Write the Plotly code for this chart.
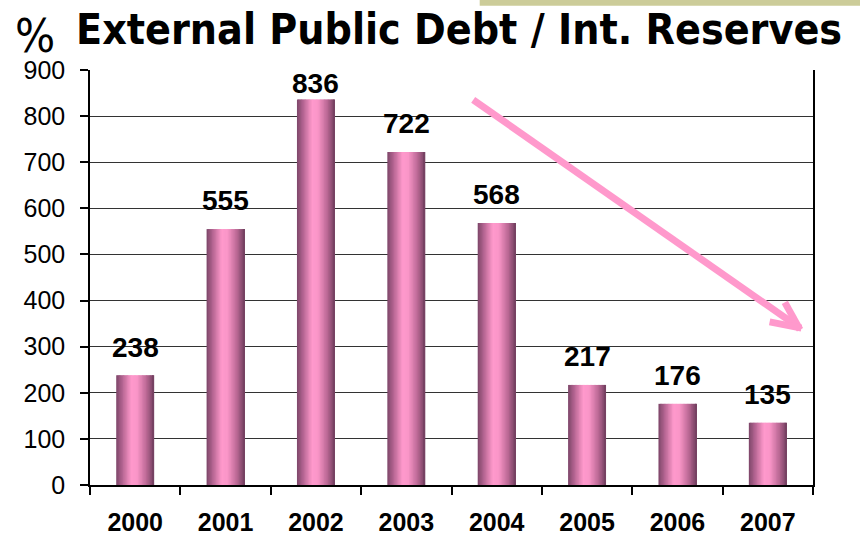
import plotly.graph_objects as go

# Data
years = ["2000", "2001", "2002", "2003", "2004", "2005", "2006", "2007"]
ratio = [238, 555, 836, 722, 568, 217, 176, 135]
y_ticks = [0, 100, 200, 300, 400, 500, 600, 700, 800, 900]

# Horizontal shading across each bar (cylinder look): position -> RGB
shade_stops = [
    (0.00, (124, 70, 104)),
    (0.15, (176, 98, 142)),
    (0.40, (255, 153, 204)),
    (0.55, (250, 150, 200)),
    (0.80, (186, 104, 148)),
    (1.00, (112, 62, 94)),
]


def shade(t):
    for (t0, c0), (t1, c1) in zip(shade_stops, shade_stops[1:]):
        if t0 <= t <= t1:
            f = (t - t0) / (t1 - t0) if t1 > t0 else 0
            return "rgb(%d,%d,%d)" % tuple(round(a + (b - a) * f) for a, b in zip(c0, c1))
    return "rgb(%d,%d,%d)" % shade_stops[-1][1]


BAR_W = 0.42
N_SLICES = 28
step = BAR_W / N_SLICES

fig = go.Figure()
for k in range(N_SLICES):
    off = -BAR_W / 2 + k * step
    w = min(step * 1.7, BAR_W / 2 - off)
    fig.add_trace(go.Bar(
        x=years, y=ratio,
        offset=off, width=w,
        marker=dict(color=shade((k + 0.5) / N_SLICES), line=dict(width=0)),
        hoverinfo="skip", showlegend=False,
    ))

# Value labels above the bars, kept inside the plot area
label_font = dict(family="Liberation Sans, Arial", size=28, color="black")
for i, v in enumerate(ratio):
    fig.add_annotation(
        x=i, y=min(v + 61, 870), text="<b>%d</b>" % v,
        showarrow=False, yanchor="middle", xanchor="center",
        font=label_font,
    )

# Downward trend arrow
pink = "#FF99CC"
tip = (0.982, 0.378)
fig.add_shape(type="line", xref="paper", yref="paper",
              x0=0.530, y0=0.928, x1=tip[0], y1=tip[1],
              line=dict(color=pink, width=7))
fig.add_shape(type="line", xref="paper", yref="paper",
              x0=0.961, y0=0.440, x1=tip[0], y1=tip[1] - 0.004,
              line=dict(color=pink, width=7))
fig.add_shape(type="line", xref="paper", yref="paper",
              x0=0.940, y0=0.393, x1=tip[0] + 0.002, y1=tip[1],
              line=dict(color=pink, width=7))

# Khaki strip along the top edge
fig.add_shape(type="rect", xref="paper", yref="paper",
              x0=0.539, x1=1.07, y0=1.155, y1=1.175,
              fillcolor="#CCCC99", line=dict(width=0), layer="below")

# Title
fig.add_annotation(
    xref="paper", yref="paper", x=-0.107, y=1.084,
    text="%", showarrow=False, xanchor="left", yanchor="middle",
    height=40, valign="middle",
    font=dict(family="DejaVu Sans Condensed", size=47, color="black"),
)
fig.add_annotation(
    xref="paper", yref="paper", x=-0.022, y=1.097,
    text="<b>External Public Debt / Int. Reserves</b>",
    showarrow=False, xanchor="left", yanchor="middle",
    font=dict(family="DejaVu Sans Condensed", size=42.5, color="black"),
)

fig.update_layout(
    barmode="overlay",
    width=860, height=536,
    margin=dict(l=90, r=47, t=70, b=51),
    paper_bgcolor="white", plot_bgcolor="white",
    xaxis=dict(
        type="category",
        range=[-0.5, len(years) - 0.5],
        automargin=False,
        tickson="boundaries",
        ticks="outside", ticklen=8, tickcolor="black", tickwidth=1.5,
        showline=True, linecolor="black", linewidth=1.5,
        showgrid=False,
        ticklabelstandoff=14,
        tickfont=dict(family="Liberation Sans, Arial", size=25, color="black", weight="bold"),
    ),
    yaxis=dict(
        range=[0, 900],
        tickvals=y_ticks,
        automargin=False,
        ticks="outside", ticklen=8, tickcolor="black", tickwidth=1.5,
        showline=True, linecolor="black", linewidth=1.5, mirror=True,
        showgrid=True, gridcolor="#333333", gridwidth=1.2,
        zeroline=False,
        ticklabelstandoff=10,
        tickfont=dict(family="Liberation Sans, Arial", size=25, color="black"),
    ),
)

fig.write_html("out.html")
